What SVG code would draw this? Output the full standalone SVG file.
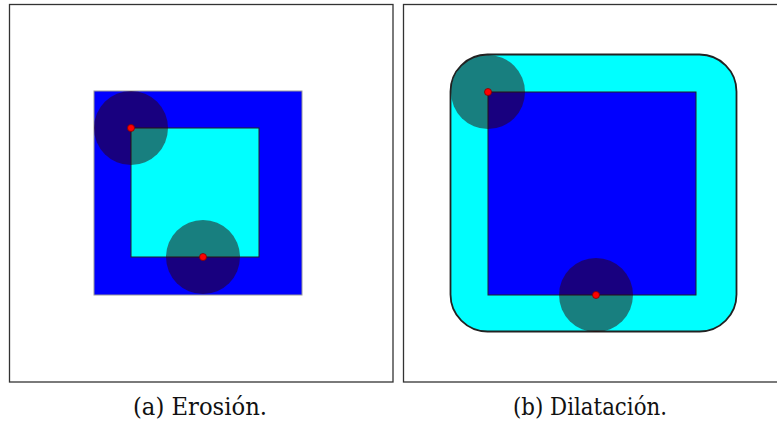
<svg xmlns="http://www.w3.org/2000/svg" width="777" height="425" viewBox="0 0 777 425">
<style>
.frame{fill:#fff;stroke:#333;stroke-width:1.3}
.se{fill:#300000;fill-opacity:0.5}
.pt{fill:#ff0000;stroke:#800000;stroke-width:0.8}
.cap{font-size:24px;fill:#111;text-anchor:middle}
</style>
<rect width="777" height="425" fill="#fff"/>
<g id="panel-a">
<rect class="frame" x="9.5" y="4.5" width="383.5" height="377.5"/>
<rect x="94" y="91" width="208" height="204" fill="#0000ff" stroke="#999" stroke-width="1"/>
<rect x="131" y="128" width="128" height="129" fill="#00ffff" stroke="#222" stroke-width="1"/>
<circle class="se" cx="131" cy="128" r="37"/>
<circle class="se" cx="203" cy="257" r="37"/>
<circle class="pt" cx="131" cy="128" r="3.5"/>
<circle class="pt" cx="203" cy="257" r="3.5"/>
<text class="cap" font-family="'DejaVu Serif', 'Liberation Serif', serif" x="200" y="415" textLength="134" lengthAdjust="spacingAndGlyphs">(a) Erosión.</text>
</g>
<g id="panel-b">
<rect class="frame" x="403.5" y="4.5" width="380" height="377.5"/>
<rect x="450.5" y="54.5" width="286" height="277" rx="37" ry="37" fill="#00ffff" stroke="#222" stroke-width="1.8"/>
<rect x="488" y="92" width="208" height="203" fill="#0000ff" stroke="#222" stroke-width="1"/>
<circle class="se" cx="488" cy="92" r="37"/>
<circle class="se" cx="596" cy="295" r="37"/>
<circle class="pt" cx="488" cy="92" r="3.5"/>
<circle class="pt" cx="596" cy="295" r="3.5"/>
<text class="cap" font-family="'DejaVu Serif', 'Liberation Serif', serif" x="590" y="415" textLength="154" lengthAdjust="spacingAndGlyphs">(b) Dilatación.</text>
</g>
<g id="connectors"></g>
</svg>
